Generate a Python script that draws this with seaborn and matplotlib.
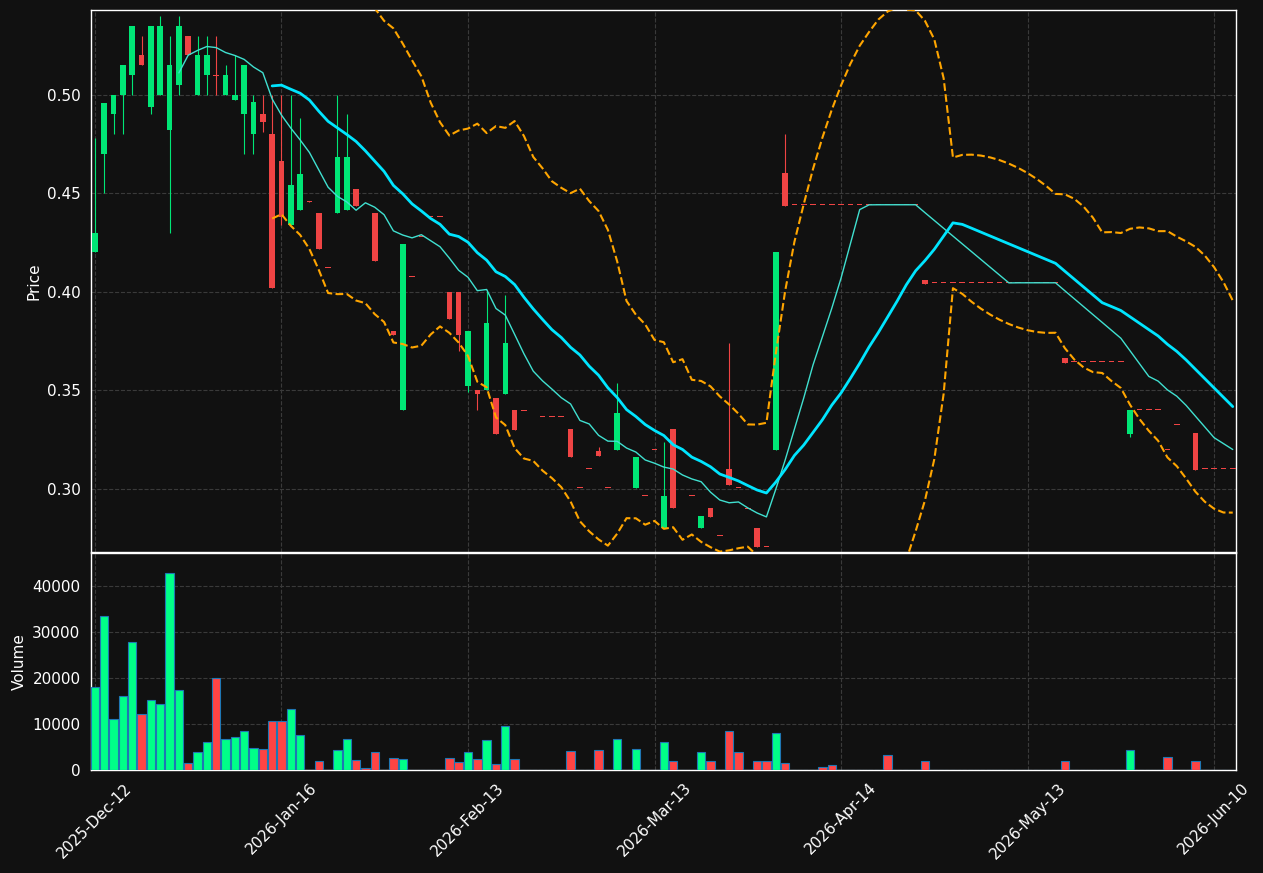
import matplotlib
matplotlib.use("Agg")
import matplotlib.pyplot as plt
import seaborn as sns
import numpy as np
import pandas as pd

tick_labels = ["2025-Dec-12", "2026-Jan-16", "2026-Feb-13", "2026-Mar-13",
               "2026-Apr-14", "2026-May-13", "2026-Jun-10"]
tick_pos = [0, 20, 40, 60, 80, 100, 120]

opens = [0.42, 0.47, 0.49, 0.50, 0.51, 0.52, 0.494, 0.50, 0.482, 0.505,
         0.53, 0.50, 0.51, 0.51, 0.50, 0.4975, 0.49, 0.48, 0.49, 0.48,
         0.4665, 0.434, 0.4416, 0.446, 0.44, 0.412, 0.44, 0.4416, 0.452, 0.44,
         0.44, 0.416, 0.38, 0.34, 0.4076, 0.428, 0.438, 0.438, 0.40, 0.40,
         0.352, 0.35, 0.35, 0.346, 0.348, 0.34, 0.3396, 0.35, 0.3365, 0.3365,
         0.3365, 0.3305, 0.3005, 0.31, 0.319, 0.3005, 0.32, 0.316, 0.3005, 0.2964,
         0.32, 0.28, 0.3305, 0.28, 0.2964, 0.28, 0.2904, 0.2761, 0.31, 0.3005,
         0.29, 0.28, 0.2705, 0.32, 0.4604,
         0.4442, 0.4442, 0.4442, 0.4442, 0.4442, 0.4442, 0.4442, 0.4442, 0.4442, 0.4442,
         0.4442, 0.4442, 0.4442, 0.4442,
         0.4061,
         0.4046, 0.4046, 0.4046, 0.4046, 0.4046, 0.4046, 0.4046, 0.4046, 0.4046, 0.4046,
         0.4046, 0.4046, 0.4046, 0.4046,
         0.3665, 0.3645, 0.3645, 0.3645, 0.3645, 0.3645, 0.3645,
         0.328, 0.34, 0.34, 0.34, 0.32, 0.3325, 0.318, 0.3284, 0.31, 0.31, 0.31, 0.31]

closes = [0.43, 0.496, 0.50, 0.515, 0.535, 0.515, 0.535, 0.535, 0.515, 0.535,
          0.52, 0.52, 0.52, 0.5095, 0.51, 0.50, 0.515, 0.4965, 0.486, 0.402,
          0.438, 0.454, 0.46, 0.4455, 0.422, 0.412, 0.4685, 0.4685, 0.4437, 0.4398,
          0.4155, 0.416, 0.378, 0.4244, 0.4076, 0.428, 0.438, 0.438, 0.386, 0.378,
          0.38, 0.348, 0.384, 0.328, 0.374, 0.33, 0.3396, 0.35, 0.3365, 0.3365,
          0.3365, 0.316, 0.3005, 0.31, 0.3165, 0.3005, 0.3386, 0.316, 0.316, 0.2964,
          0.32, 0.2964, 0.2904, 0.28, 0.2964, 0.2863, 0.2858, 0.2761, 0.302, 0.3005,
          0.29, 0.2705, 0.2705, 0.42, 0.4437,
          0.4442, 0.4442, 0.4442, 0.4442, 0.4442, 0.4442, 0.4442, 0.4442, 0.4442, 0.4442,
          0.4442, 0.4442, 0.4442, 0.4442,
          0.404,
          0.4046, 0.4046, 0.4046, 0.4046, 0.4046, 0.4046, 0.4046, 0.4046, 0.4046, 0.4046,
          0.4046, 0.4046, 0.4046, 0.4046,
          0.364, 0.3645, 0.3645, 0.3645, 0.3645, 0.3645, 0.3645,
          0.34, 0.34, 0.34, 0.34, 0.32, 0.3325, 0.318, 0.3096, 0.31, 0.31, 0.31, 0.31]

highs = [0.478, 0.496, 0.50, 0.515, 0.535, 0.53, 0.535, 0.54, 0.53, 0.54,
         0.53, 0.53, 0.53, 0.53, 0.515, 0.52, 0.515, 0.50, 0.50, 0.50,
         0.50, 0.50, 0.488, 0.446, 0.44, 0.412, 0.50, 0.49, 0.452, 0.44,
         0.44, 0.416, 0.38, 0.4244, 0.4076, 0.428, 0.438, 0.438, 0.40, 0.40,
         0.38, 0.35, 0.401, 0.346, 0.3985, 0.34, 0.3396, 0.35, 0.3365, 0.3365,
         0.3365, 0.3305, 0.3005, 0.31, 0.3215, 0.3005, 0.354, 0.316, 0.316, 0.2964,
         0.32, 0.324, 0.3305, 0.28, 0.2964, 0.2863, 0.2904, 0.2761, 0.374, 0.3005,
         0.29, 0.28, 0.2705, 0.42, 0.48,
         0.4442, 0.4442, 0.4442, 0.4442, 0.4442, 0.4442, 0.4442, 0.4442, 0.4442, 0.4442,
         0.4442, 0.4442, 0.4442, 0.4442,
         0.4061,
         0.4046, 0.4046, 0.4046, 0.4046, 0.4046, 0.4046, 0.4046, 0.4046, 0.4046, 0.4046,
         0.4046, 0.4046, 0.4046, 0.4046,
         0.3665, 0.3645, 0.3645, 0.3645, 0.3645, 0.3645, 0.3645,
         0.34, 0.34, 0.34, 0.34, 0.32, 0.3325, 0.318, 0.3284, 0.31, 0.31, 0.31, 0.31]

lows = [0.42, 0.45, 0.48, 0.48, 0.50, 0.515, 0.49, 0.50, 0.43, 0.50,
        0.52, 0.50, 0.50, 0.50, 0.50, 0.4975, 0.47, 0.47, 0.481, 0.402,
        0.434, 0.434, 0.4416, 0.4455, 0.422, 0.412, 0.44, 0.4416, 0.4437, 0.4398,
        0.4155, 0.416, 0.378, 0.34, 0.4076, 0.428, 0.438, 0.438, 0.386, 0.37,
        0.349, 0.34, 0.35, 0.328, 0.348, 0.33, 0.3396, 0.35, 0.3365, 0.3365,
        0.3365, 0.316, 0.3005, 0.31, 0.3165, 0.3005, 0.32, 0.316, 0.3005, 0.2964,
        0.32, 0.28, 0.2904, 0.28, 0.2964, 0.28, 0.2858, 0.2761, 0.302, 0.3005,
        0.29, 0.2705, 0.2705, 0.32, 0.4437,
        0.4442, 0.4442, 0.4442, 0.4442, 0.4442, 0.4442, 0.4442, 0.4442, 0.4442, 0.4442,
        0.4442, 0.4442, 0.4442, 0.4442,
        0.404,
        0.4046, 0.4046, 0.4046, 0.4046, 0.4046, 0.4046, 0.4046, 0.4046, 0.4046, 0.4046,
        0.4046, 0.4046, 0.4046, 0.4046,
        0.364, 0.3645, 0.3645, 0.3645, 0.3645, 0.3645, 0.3645,
        0.3266, 0.34, 0.34, 0.34, 0.32, 0.3325, 0.318, 0.3096, 0.31, 0.31, 0.31, 0.31]

volumes = [18000, 33500, 11000, 16000, 27800, 12200, 15200, 14400, 42800, 17300,
           1500, 3900, 6100, 20000, 6700, 7100, 8400, 4800, 4600, 10600,
           10600, 13200, 7600, 0, 2000, 0, 4400, 6700, 2200, 400,
           3900, 0, 2600, 2400, 0, 0, 0, 0, 2600, 1800,
           3900, 2400, 6500, 1300, 9500, 2400, 0, 0, 0, 0,
           0, 4100, 0, 0, 4300, 0, 6700, 0, 4600, 0,
           0, 6000, 2000, 0, 0, 4000, 2000, 0, 8500, 4000,
           0, 2000, 2000, 8000, 1500,
           0, 0, 0, 700, 1000, 0, 0, 0, 0, 0, 3300, 0, 0, 0,
           2000,
           0, 0, 0, 0, 0, 0, 0, 0, 0, 0, 0, 0, 0, 0,
           2000, 0, 0, 0, 0, 0, 0,
           4300, 0, 0, 0, 2800, 0, 0, 2000, 0, 0, 0, 0]

df = pd.DataFrame({"open": opens, "high": highs, "low": lows,
                   "close": closes, "volume": volumes})
df["idx"] = np.arange(len(df))
df["ma10"] = df["close"].rolling(10).mean()
df["ma20"] = df["close"].rolling(20).mean()
std20 = df["close"].rolling(20).std()
df["bb_up"] = df["ma20"] + 2 * std20
df["bb_lo"] = df["ma20"] - 2 * std20

BG = "#111111"
UP = "#00e676"
DOWN = "#ef4444"
sns.set_theme(style="dark")
plt.rcParams["font.family"] = ["DejaVu Sans"]

fig = plt.figure(figsize=(12.63, 8.73), dpi=100, facecolor=BG)
ax = fig.add_axes([0.072, 0.3677, 0.907, 0.6208])
axv = fig.add_axes([0.072, 0.118, 0.907, 0.2486], sharex=ax)

for a in (ax, axv):
    a.set_facecolor(BG)
    for s in a.spines.values():
        s.set_color("white")
        s.set_linewidth(1)
    a.grid(True, color="#3a3a3a", linestyle="--", linewidth=0.8)
    a.tick_params(colors="white", labelsize=11, length=4)

up = df["close"] > df["open"]
colors = np.where(up, UP, DOWN)
body_lo = np.minimum(df["open"], df["close"])
body_h = np.maximum(np.abs(df["close"] - df["open"]), 0.0004)
ax.vlines(df["idx"], df["low"], df["high"], colors=colors, linewidth=0.8, zorder=2)
ax.bar(df["idx"], body_h, bottom=body_lo, width=0.6, color=colors,
       edgecolor=colors, linewidth=0, zorder=3)

sns.lineplot(data=df, x="idx", y="ma10", ax=ax, color="#40e0d0", linewidth=1.0, zorder=4)
sns.lineplot(data=df, x="idx", y="ma20", ax=ax, color="#00e5ff", linewidth=2.0, zorder=4)
sns.lineplot(data=df, x="idx", y="bb_up", ax=ax, color="#ffa500", linewidth=1.5,
             linestyle="--", zorder=4)
sns.lineplot(data=df, x="idx", y="bb_lo", ax=ax, color="#ffa500", linewidth=1.5,
             linestyle="--", zorder=4)

ax.set_ylim(0.268, 0.543)
ax.set_yticks([0.30, 0.35, 0.40, 0.45, 0.50])
ax.set_yticklabels(["0.30", "0.35", "0.40", "0.45", "0.50"])
ax.set_ylabel("Price", color="white", fontsize=11)
ax.set_xlabel("")
ax.tick_params(axis="x", labelbottom=False, length=0)

vcolors = np.where(up, "#00ff88", "#ff4444")
axv.bar(df["idx"], df["volume"], width=0.9, color=vcolors, edgecolor="#1f77b4",
        linewidth=0.8, zorder=3)
axv.set_ylim(0, 47200)
axv.set_yticks([0, 10000, 20000, 30000, 40000])
axv.set_ylabel("Volume", color="white", fontsize=11)
axv.set_xlim(-0.43, 122.4)
axv.set_xticks(tick_pos)
axv.set_xticklabels(tick_labels, rotation=45, ha="center")
axv.tick_params(axis="x", colors="white", labelsize=11)
axv.set_xlabel("")

fig.savefig("out.png", dpi=100, facecolor=BG)
